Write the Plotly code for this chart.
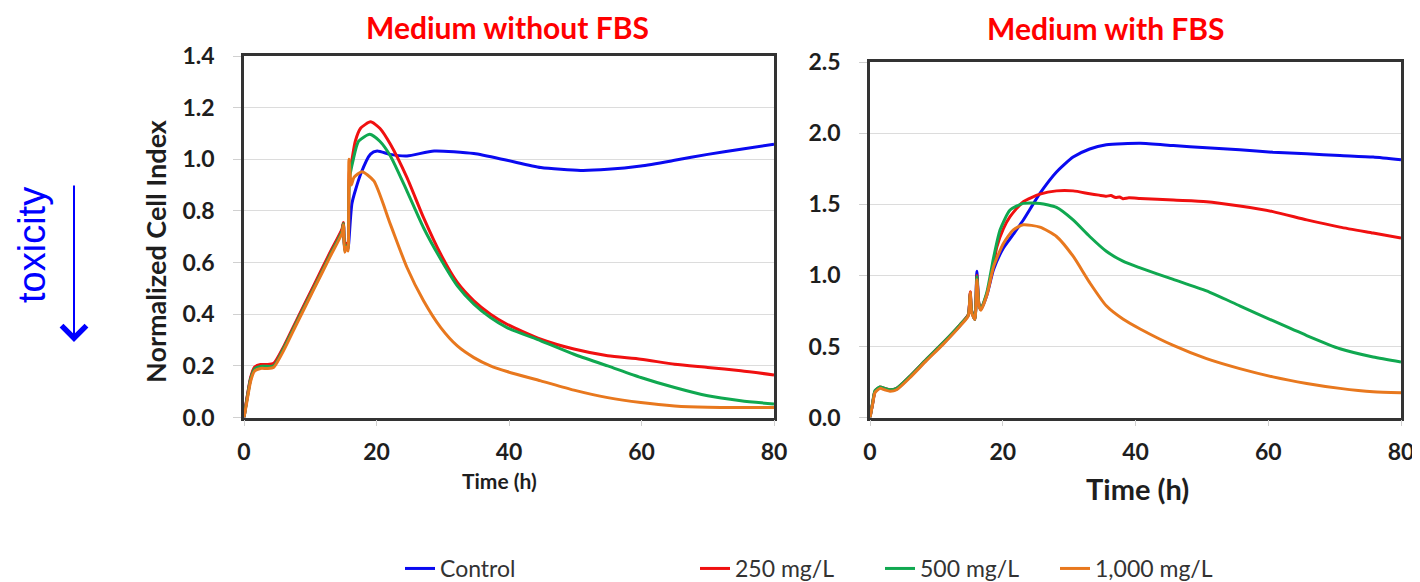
import plotly.graph_objects as go

# ---------------- data ----------------
series_names = ["Control", "250 mg/L", "500 mg/L", "1,000 mg/L"]
series_colors = ["#0A0AF0", "#F01010", "#10A850", "#E8781E"]

# Medium without FBS
t_nofbs_control = [0, 0.5, 1, 1.6, 2.5, 3.5, 4.5, 6, 8, 10.5, 13, 14.8, 15.0, 15.2, 15.5, 15.7, 16.3, 17.6, 19.1, 20.1, 22.1, 24.6, 28.7, 34.7, 39.7, 44.8, 50.8, 54.9, 59.9, 65, 70, 75, 80]
v_nofbs_control = [0, 0.08, 0.15, 0.19, 0.2, 0.2, 0.205, 0.27, 0.375, 0.505, 0.635, 0.725, 0.75, 0.65, 0.67, 0.655, 0.83, 0.942, 1.02, 1.032, 1.019, 1.013, 1.032, 1.022, 0.996, 0.968, 0.957, 0.961, 0.974, 0.996, 1.019, 1.039, 1.058]

t_nofbs_250 = [0, 0.5, 1, 1.6, 2.5, 3.5, 4.5, 6, 8, 10.5, 13, 14.8, 15.0, 15.2, 15.5, 15.7, 15.9, 16.3, 16.8, 17.6, 19.1, 20.5, 22.1, 24.6, 27.1, 29.7, 32.2, 34.7, 37.2, 39.7, 44.8, 49.8, 54.9, 59.9, 65, 70, 75, 80]
v_nofbs_250 = [0, 0.085, 0.155, 0.195, 0.205, 0.205, 0.21, 0.275, 0.38, 0.51, 0.64, 0.73, 0.755, 0.655, 0.675, 0.66, 0.95, 1.0, 1.07, 1.12, 1.145, 1.12, 1.058, 0.929, 0.774, 0.632, 0.523, 0.452, 0.40, 0.361, 0.303, 0.265, 0.239, 0.226, 0.206, 0.194, 0.181, 0.165]

t_nofbs_500 = [0, 0.5, 1, 1.6, 2.5, 3.5, 4.5, 6, 8, 10.5, 13, 14.8, 15.0, 15.2, 15.5, 15.7, 15.9, 16.5, 17.3, 19.0, 20.5, 22.1, 24.6, 27.1, 29.7, 32.2, 34.7, 37.2, 39.7, 44.8, 49.8, 54.9, 59.9, 65, 70, 75, 80]
v_nofbs_500 = [0, 0.078, 0.148, 0.188, 0.198, 0.198, 0.2, 0.268, 0.372, 0.5, 0.63, 0.72, 0.75, 0.645, 0.665, 0.65, 0.92, 1.0, 1.07, 1.097, 1.07, 1.013, 0.877, 0.735, 0.613, 0.51, 0.439, 0.387, 0.348, 0.297, 0.245, 0.2, 0.155, 0.116, 0.084, 0.065, 0.052]

t_nofbs_1000 = [0, 0.5, 1, 1.6, 2.5, 3.5, 4.5, 6, 8, 10.5, 13, 14.8, 15.0, 15.2, 15.5, 15.7, 15.85, 16.2, 16.6, 17.8, 19.6, 22.1, 24.6, 27.1, 29.7, 32.2, 34.7, 37.2, 39.7, 44.8, 49.8, 54.9, 59.9, 65, 70, 80]
v_nofbs_1000 = [0, 0.07, 0.14, 0.18, 0.19, 0.19, 0.195, 0.26, 0.365, 0.494, 0.623, 0.714, 0.746, 0.64, 0.66, 0.645, 1.0, 0.9, 0.93, 0.952, 0.916, 0.748, 0.581, 0.452, 0.348, 0.277, 0.232, 0.2, 0.178, 0.142, 0.106, 0.077, 0.058, 0.045, 0.04, 0.039]

# Medium with FBS
t_fbs_control = [0, 0.4, 0.75, 1.5, 2.2, 3.0, 4.0, 6.0, 8.5, 11.0, 13.6, 14.8, 15.1, 15.3, 15.8, 16.1, 16.4, 16.7, 17.6, 18.6, 20.1, 21.6, 23.1, 25.6, 28.1, 30.6, 33.1, 35.6, 40.7, 45.7, 50.7, 55.7, 60.7, 65.8, 70.8, 75.8, 80]
v_fbs_control = [0, 0.1, 0.18, 0.21, 0.2, 0.19, 0.2, 0.285, 0.405, 0.52, 0.65, 0.72, 0.88, 0.75, 0.69, 1.03, 0.8, 0.76, 0.86, 1.04, 1.193, 1.29, 1.39, 1.577, 1.728, 1.833, 1.89, 1.919, 1.93, 1.914, 1.898, 1.884, 1.867, 1.856, 1.844, 1.833, 1.814]

t_fbs_250 = [0, 0.4, 0.75, 1.5, 2.2, 3.0, 4.0, 6.0, 8.5, 11.0, 13.6, 14.8, 15.1, 15.3, 15.8, 16.1, 16.4, 16.7, 17.6, 18.6, 19.1, 20.1, 21.1, 23.1, 25.6, 28.1, 30.6, 33.1, 34.5, 35.6, 36.3, 37.0, 37.6, 38.1, 39.0, 40.7, 45.7, 50.7, 55.7, 60.7, 65.8, 70.8, 75.8, 80]
v_fbs_250 = [0, 0.1, 0.185, 0.215, 0.205, 0.195, 0.205, 0.29, 0.41, 0.525, 0.655, 0.725, 0.885, 0.755, 0.695, 1.0, 0.8, 0.765, 0.87, 1.07, 1.2, 1.33, 1.414, 1.519, 1.572, 1.595, 1.595, 1.575, 1.565, 1.558, 1.562, 1.548, 1.552, 1.54, 1.546, 1.542, 1.53, 1.519, 1.488, 1.449, 1.391, 1.34, 1.298, 1.263]

t_fbs_500 = [0, 0.4, 0.75, 1.5, 2.2, 3.0, 4.0, 6.0, 8.5, 11.0, 13.6, 14.8, 15.1, 15.3, 15.8, 16.1, 16.4, 16.7, 17.6, 18.1, 18.6, 19.6, 21.1, 23.1, 25.6, 28.1, 30.6, 33.1, 35.6, 38.1, 40.7, 45.7, 50.7, 55.7, 60.7, 65.8, 70.8, 75.8, 80]
v_fbs_500 = [0, 0.105, 0.19, 0.215, 0.205, 0.195, 0.205, 0.29, 0.41, 0.525, 0.655, 0.72, 0.87, 0.75, 0.69, 0.99, 0.8, 0.76, 0.88, 0.995, 1.12, 1.321, 1.46, 1.507, 1.507, 1.479, 1.391, 1.274, 1.17, 1.1, 1.053, 0.972, 0.891, 0.786, 0.681, 0.577, 0.484, 0.426, 0.391]

t_fbs_1000 = [0, 0.4, 0.75, 1.5, 2.2, 3.0, 4.0, 6.0, 8.5, 11.0, 13.6, 14.8, 15.1, 15.3, 15.8, 16.1, 16.4, 16.7, 17.6, 18.6, 20.1, 21.6, 23.1, 25.6, 28.1, 30.6, 33.1, 35.6, 38.1, 40.7, 45.7, 50.7, 55.7, 60.7, 65.8, 70.8, 75.8, 80]
v_fbs_1000 = [0, 0.095, 0.175, 0.205, 0.195, 0.185, 0.195, 0.28, 0.4, 0.515, 0.645, 0.715, 0.88, 0.74, 0.69, 0.97, 0.79, 0.755, 0.86, 1.06, 1.225, 1.321, 1.356, 1.34, 1.274, 1.135, 0.949, 0.786, 0.693, 0.623, 0.507, 0.414, 0.344, 0.286, 0.24, 0.205, 0.181, 0.175]

x_ticks = [0, 20, 40, 60, 80]
y_ticks_nofbs = [0.0, 0.2, 0.4, 0.6, 0.8, 1.0, 1.2, 1.4]
y_ticks_fbs = [0.0, 0.5, 1.0, 1.5, 2.0, 2.5]

title_nofbs = "Medium without FBS"
title_fbs = "Medium with FBS"
y_title = "Normalized Cell Index"
x_title = "Time (h)"
side_label = "toxicity"

# ---------------- figure ----------------
OFF = 8                      # page body margin
W, H = 1420 - OFF, 582
FONT = "Lato"

def px_x(p):
    return (p - OFF) / W

def px_y(p):
    return 1 - (p - OFF) / H

fig = go.Figure()

left = [(t_nofbs_control, v_nofbs_control), (t_nofbs_250, v_nofbs_250),
        (t_nofbs_500, v_nofbs_500), (t_nofbs_1000, v_nofbs_1000)]
right = [(t_fbs_control, v_fbs_control), (t_fbs_250, v_fbs_250),
         (t_fbs_500, v_fbs_500), (t_fbs_1000, v_fbs_1000)]

legend_ids = ["legend", "legend2", "legend3", "legend4"]
for i, (t, v) in enumerate(left):
    fig.add_trace(go.Scatter(x=t, y=v, mode="lines", name=series_names[i],
                             line=dict(color=series_colors[i], width=3, shape="spline", smoothing=0.6),
                             xaxis="x", yaxis="y", legend=legend_ids[i], showlegend=True))
for i, (t, v) in enumerate(right):
    fig.add_trace(go.Scatter(x=t, y=v, mode="lines", name=series_names[i],
                             line=dict(color=series_colors[i], width=3, shape="spline", smoothing=0.6),
                             xaxis="x2", yaxis="y2", showlegend=False))

axis_common = dict(showline=True, mirror=True, linecolor="#333333", linewidth=2.5,
                   zeroline=False, automargin=False, ticks="outside",
                   tickcolor="#d0d0d0", tickwidth=1)
tickfont = dict(family=FONT, size=23, color="#1e1e1e", weight="bold")

fig.update_layout(
    width=W, height=H, template="none",
    paper_bgcolor="white", plot_bgcolor="white",
    margin=dict(l=0, r=0, t=0, b=0),
    xaxis=dict(domain=[px_x(244), px_x(774)], range=[0, 80], tickvals=x_ticks,
               showgrid=False, ticklen=6, ticklabelstandoff=6, tickfont=tickfont,
               anchor="y", **axis_common),
    yaxis=dict(domain=[px_y(417.5), px_y(56)], range=[0, 1.4], tickvals=y_ticks_nofbs,
               tickformat=".1f", showgrid=True, gridcolor="#dcdcdc", gridwidth=1,
               ticklen=8, ticklabelstandoff=14, tickfont=tickfont, anchor="x", **axis_common),
    xaxis2=dict(domain=[px_x(870), px_x(1401)], range=[0, 80], tickvals=x_ticks,
                showgrid=False, ticklen=6, ticklabelstandoff=6, tickfont=tickfont,
                anchor="y2", **axis_common),
    yaxis2=dict(domain=[px_y(417.5), px_y(62.3)], range=[0, 2.5], tickvals=y_ticks_fbs,
                tickformat=".1f", showgrid=True, gridcolor="#dcdcdc", gridwidth=1,
                ticklen=8, ticklabelstandoff=14, tickfont=tickfont, anchor="x2", **axis_common),
    showlegend=True,
)

leg_font = dict(family=FONT, size=23, color="#333333")
leg_x = [400, 695, 880, 1055]
for lid, lx in zip(legend_ids, leg_x):
    fig.update_layout({lid: dict(x=px_x(lx), y=0, xanchor="left", yanchor="bottom",
                                 orientation="h", font=leg_font, bgcolor="rgba(0,0,0,0)",
                                 borderwidth=0, itemwidth=30)})

annotations = [
    dict(text=title_nofbs, x=px_x(508), y=px_y(26.5), font=dict(family=FONT, size=30, color="#FF0000", weight="bold")),
    dict(text=title_fbs, x=px_x(1106), y=px_y(28), font=dict(family=FONT, size=30, color="#FF0000", weight="bold")),
    dict(text=y_title, x=px_x(155), y=px_y(251), textangle=-90, font=dict(family=FONT, size=27, color="#1e1e1e", weight="bold")),
    dict(text=x_title, x=px_x(499), y=px_y(480), font=dict(family=FONT, size=21, color="#1e1e1e", weight="bold")),
    dict(text=x_title, x=px_x(1137), y=px_y(489), font=dict(family=FONT, size=29, color="#1e1e1e", weight="bold")),
    dict(text=side_label, x=px_x(32), y=px_y(245), textangle=-90, font=dict(family="Liberation Sans", size=38, color="#0000FF")),
]
for a in annotations:
    a.update(xref="paper", yref="paper", showarrow=False, xanchor="center", yanchor="middle")

# arrow next to "toxicity" (tail 158 px above head)
annotations.append(dict(text="", x=px_x(74), y=px_y(342), ax=0, ay=-158,
                        xref="paper", yref="paper", axref="pixel", ayref="pixel",
                        showarrow=True, arrowhead=4, arrowsize=2.4, arrowwidth=2, arrowcolor="#0000FF"))
fig.update_layout(annotations=annotations)

fig.write_html("out.html")
